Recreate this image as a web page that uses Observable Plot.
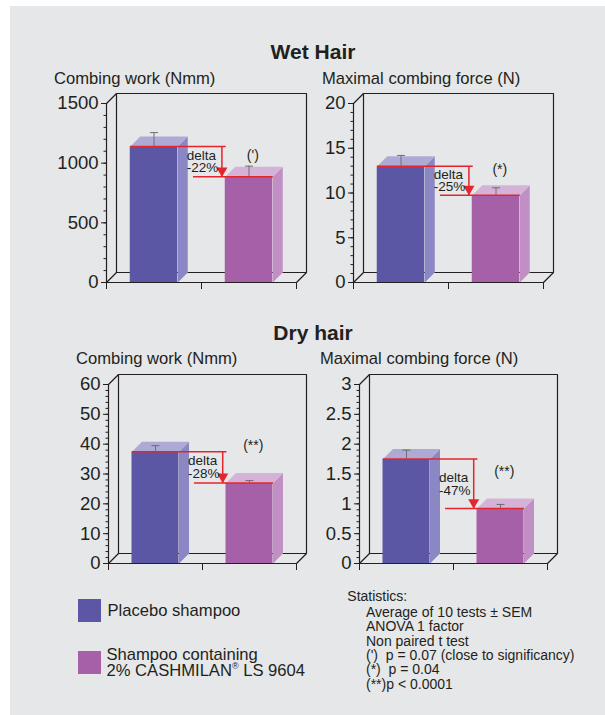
<!DOCTYPE html>
<html>
<head>
<meta charset="utf-8">
<script src="https://cdn.jsdelivr.net/npm/d3@7"></script>
<script src="https://cdn.jsdelivr.net/npm/@observablehq/plot@0.6"></script>
<style>
  body { margin: 0; background: #ffffff; font-family: "Liberation Sans", Arial, Helvetica, sans-serif; color: #231f20; }
  #page { position: relative; width: 605px; height: 715px; overflow: hidden; }
  #bg { position: absolute; left: 10px; top: 6px; right: 0; bottom: 0; background: #e6e7e8; }
  .abs { position: absolute; white-space: pre; }
  .ptitle { font-size: 16.6px; line-height: 16.6px; }
  .section { font-size: 21px; line-height: 21px; font-weight: bold; }
  .sw { position: absolute; width: 22.5px; height: 22.5px; }
  .leg { font-size: 16.6px; line-height: 15.7px; }
  .stats { font-size: 14px; line-height: 14.46px; }
  .panel { position: absolute; }
  .panel svg { overflow: visible; }
  .reg { font-size: 9px; position: relative; top: -7px; line-height: 0; }
</style>
</head>
<body>
<div id="page">
  <div id="bg"></div>
</div>
<script>
// ---------------- data ----------------
const groups = ["Placebo shampoo", "Shampoo containing 2% CASHMILAN® LS 9604"];
const sections = ["Wet Hair", "Dry hair"];
const panelTitles = ["Combing work (Nmm)", "Maximal combing force (N)", "Combing work (Nmm)", "Maximal combing force (N)"];
const placeboMeans = [1140, 13.0, 37.5, 1.75];
const placeboSEM = [116, 1.2, 2.0, 0.15];
const cashmilanMeans = [886, 9.75, 27.0, 0.92];
const cashmilanSEM = [89, 0.83, 0.8, 0.07];
const deltaLabels = ["-22%", "-25%", "-28%", "-47%"];
const sigLabels = ["(')", "(*)", "(**)", "(**)"];
const yMax = [1500, 20, 60, 3];
const yMajorStep = [500, 5, 10, 0.5];
const yMinorStep = [100, 1, 2, 0.1];
const statsHeader = "Statistics:";
const statsLines = [
  "Average of 10 tests \u00b1 SEM",
  "ANOVA 1 factor",
  "Non paired t test",
  "(')  p = 0.07 (close to significancy)",
  "(*)  p = 0.04",
  "(**)p < 0.0001"
];

// ---------------- layout / style ----------------
const layout = [
  {left: 56,    top: 83.3,  front: 190, titleX: 54,  titleBase: 85,  sigY: 1065},
  {left: 303.3, top: 82.7,  front: 190, titleX: 322, titleBase: 85,  sigY: 12.64},
  {left: 57.7,  top: 364.3, front: 188, titleX: 76,  titleBase: 365, sigY: 39.6},
  {left: 309,   top: 364,   front: 188, titleX: 320, titleBase: 365, sigY: 1.55}
];
const frontCol = ["#5b57a5", "#a560a8"];
const sideCol  = ["#8b86c4", "#c28fc5"];
const topCol   = ["#aeaad6", "#d5b3d9"];
const red = "#e5242c";
const ink = "#231f20";
const DEPTH = 10, PH = 179, ML = 50, MT = 20, MB = 16;

const page = document.getElementById("page");
function addText(cls, txt, left, top, extra) {
  const d = document.createElement("div");
  d.className = "abs " + cls;
  d.textContent = txt;
  d.style.left = left + "px";
  d.style.top = top + "px";
  if (extra) Object.assign(d.style, extra);
  page.appendChild(d);
  return d;
}

function makePanel(i) {
  const L = layout[i];
  const W = L.front;
  const width = ML + W + 14;
  const height = MT + PH + MB;
  const ymax = yMax[i];
  const dX = DEPTH * 2 / W, dY = DEPTH * ymax / PH;
  const pxX = 2 / W, pxY = ymax / PH;
  const rows = groups.map((g, j) => ({
    group: g, j,
    mean: j === 0 ? placeboMeans[i] : cashmilanMeans[i],
    sem: j === 0 ? placeboSEM[i] : cashmilanSEM[i]
  }));
  const faces = [];
  rows.forEach(r => {
    const x0 = r.j + 0.25, x1 = r.j + 0.75, v = r.mean;
    [[x1, 0], [x1 + dX, dY], [x1 + dX, v + dY], [x1, v]]
      .forEach(([x, y]) => faces.push({id: r.j + "s", x, y, c: sideCol[r.j]}));
    [[x0, v], [x1, v], [x1 + dX, v + dY], [x0 + dX, v + dY]]
      .forEach(([x, y]) => faces.push({id: r.j + "t", x, y, c: topCol[r.j]}));
  });
  const wall = [[dX, dY], [dX, ymax + dY], [2 + dX, ymax + dY], [2 + dX, dY], [dX, dY]]
    .map(([x, y]) => ({x, y}));
  const diags = [
    {x1: 0, y1: 0, x2: dX, y2: dY},
    {x1: 2, y1: 0, x2: 2 + dX, y2: dY},
    {x1: 0, y1: ymax, x2: dX, y2: ymax + dY}
  ];
  const nMinor = Math.round(ymax / yMinorStep[i]);
  const minorTicks = d3.range(0, nMinor + 1).map(k => +(k * yMinorStep[i]).toFixed(6));
  const nMajor = Math.round(ymax / yMajorStep[i]);
  const majorTicks = d3.range(0, nMajor + 1).map(k => +(k * yMajorStep[i]).toFixed(6));

  const b = rows[0].mean, p = rows[1].mean;
  const vx = 1.215;
  const redLinks = [
    {x1: 0.25, y1: b, x2: 1.255, y2: b},
    {x1: 0.91, y1: p, x2: 1.75, y2: p},
    {x1: vx, y1: b, x2: vx, y2: p}
  ];
  const capW = 4 * pxX;
  const mid = (b + p) / 2;

  const svg = Plot.plot({
    width, height,
    marginLeft: ML, marginRight: width - ML - W, marginTop: MT, marginBottom: MB,
    x: {domain: [0, 2], label: null},
    y: {domain: [0, ymax], label: null},
    color: {type: "identity"},
    style: {background: "transparent", overflow: "visible", fontFamily: "'Liberation Sans', Arial, sans-serif", fontSize: "18.5px", color: ink},
    marks: [
      Plot.line(wall, {x: "x", y: "y", stroke: ink, strokeWidth: 1.2, strokeLinecap: "square", strokeLinejoin: "miter"}),
      Plot.link(diags, {x1: "x1", y1: "y1", x2: "x2", y2: "y2", stroke: ink, strokeWidth: 1.2}),
      Plot.rect(rows, {x1: d => d.j + 0.25, x2: d => d.j + 0.75, y1: 0, y2: "mean", fill: d => frontCol[d.j]}),
      Plot.line(faces, {x: "x", y: "y", z: "id", fill: "c", stroke: "none"}),
      Plot.ruleX(rows, {x: d => d.j + 0.5, y1: "mean", y2: d => d.mean + d.sem, stroke: "#6e6e6e", strokeWidth: 1}),
      Plot.link(rows, {x1: d => d.j + 0.5 - capW, x2: d => d.j + 0.5 + capW, y1: d => d.mean + d.sem, y2: d => d.mean + d.sem, stroke: "#6e6e6e", strokeWidth: 1}),
      Plot.link(redLinks, {x1: "x1", y1: "y1", x2: "x2", y2: "y2", stroke: red, strokeWidth: 1.5}),
      Plot.dot([{x: vx, y: p}], {x: "x", y: "y", symbol: "triangle", rotate: 180, r: 4.1, fill: red, stroke: "none", dy: -6.2}),
      Plot.text([{x: 0.845, y: mid}], {x: "x", y: "y", text: () => "delta", textAnchor: "start", fontSize: 13.5, fill: ink, dy: -6.4}),
      Plot.text([{x: 0.845, y: mid}], {x: "x", y: "y", text: () => deltaLabels[i], textAnchor: "start", fontSize: 13.5, fill: ink, dy: 6.4}),
      Plot.text([{x: 1.54, y: L.sigY}], {x: "x", y: "y", text: () => sigLabels[i], fontSize: 14, fill: ink}),
      Plot.ruleY([0], {x1: 0, x2: 2, stroke: ink, strokeWidth: 1.2}),
      Plot.ruleX([0], {y1: 0, y2: ymax, stroke: ink, strokeWidth: 1.2}),
      Plot.axisY(minorTicks, {anchor: "left", tickSize: 2.5, tickFormat: () => "", stroke: ink}),
      Plot.axisY(majorTicks, {anchor: "left", tickSize: 5, tickPadding: 3, tickFormat: d => String(d), stroke: ink}),
      Plot.axisX([0, 1, 2], {anchor: "bottom", tickSize: 7, tickFormat: () => "", stroke: ink})
    ]
  });
  const wrap = document.createElement("div");
  wrap.className = "panel";
  wrap.style.left = L.left + "px";
  wrap.style.top = L.top + "px";
  wrap.appendChild(svg);
  page.appendChild(wrap);

  addText("ptitle", panelTitles[i], L.titleX, L.titleBase - 0.8465 * 16.6);
}

// section headings
addText("section", sections[0], 313, 59 - 0.8465 * 21, {transform: "translateX(-50%)"});
addText("section", sections[1], 313, 340 - 0.8465 * 21, {transform: "translateX(-50%)"});

for (let i = 0; i < 4; i++) makePanel(i);

// legend
const sw1 = document.createElement("div");
sw1.className = "sw"; sw1.style.left = "78.3px"; sw1.style.top = "599px"; sw1.style.background = frontCol[0];
page.appendChild(sw1);
const sw2 = document.createElement("div");
sw2.className = "sw"; sw2.style.left = "78.3px"; sw2.style.top = "651px"; sw2.style.background = frontCol[1];
page.appendChild(sw2);
addText("leg", groups[0], 107.5, 616.7 - 13.6);
addText("leg", "Shampoo containing", 106.5, 661 - 13.6);
const l3 = addText("leg", "", 106.5, 676.7 - 13.6);
l3.innerHTML = "2% CASHMILAN<span class=\"reg\">\u00ae</span> LS 9604";

// statistics
addText("stats", statsHeader, 347.3, 600.7 - 12.1);
addText("stats", statsLines.join("\n"), 366, 616.7 - 12.08);
</script>
</body>
</html>
